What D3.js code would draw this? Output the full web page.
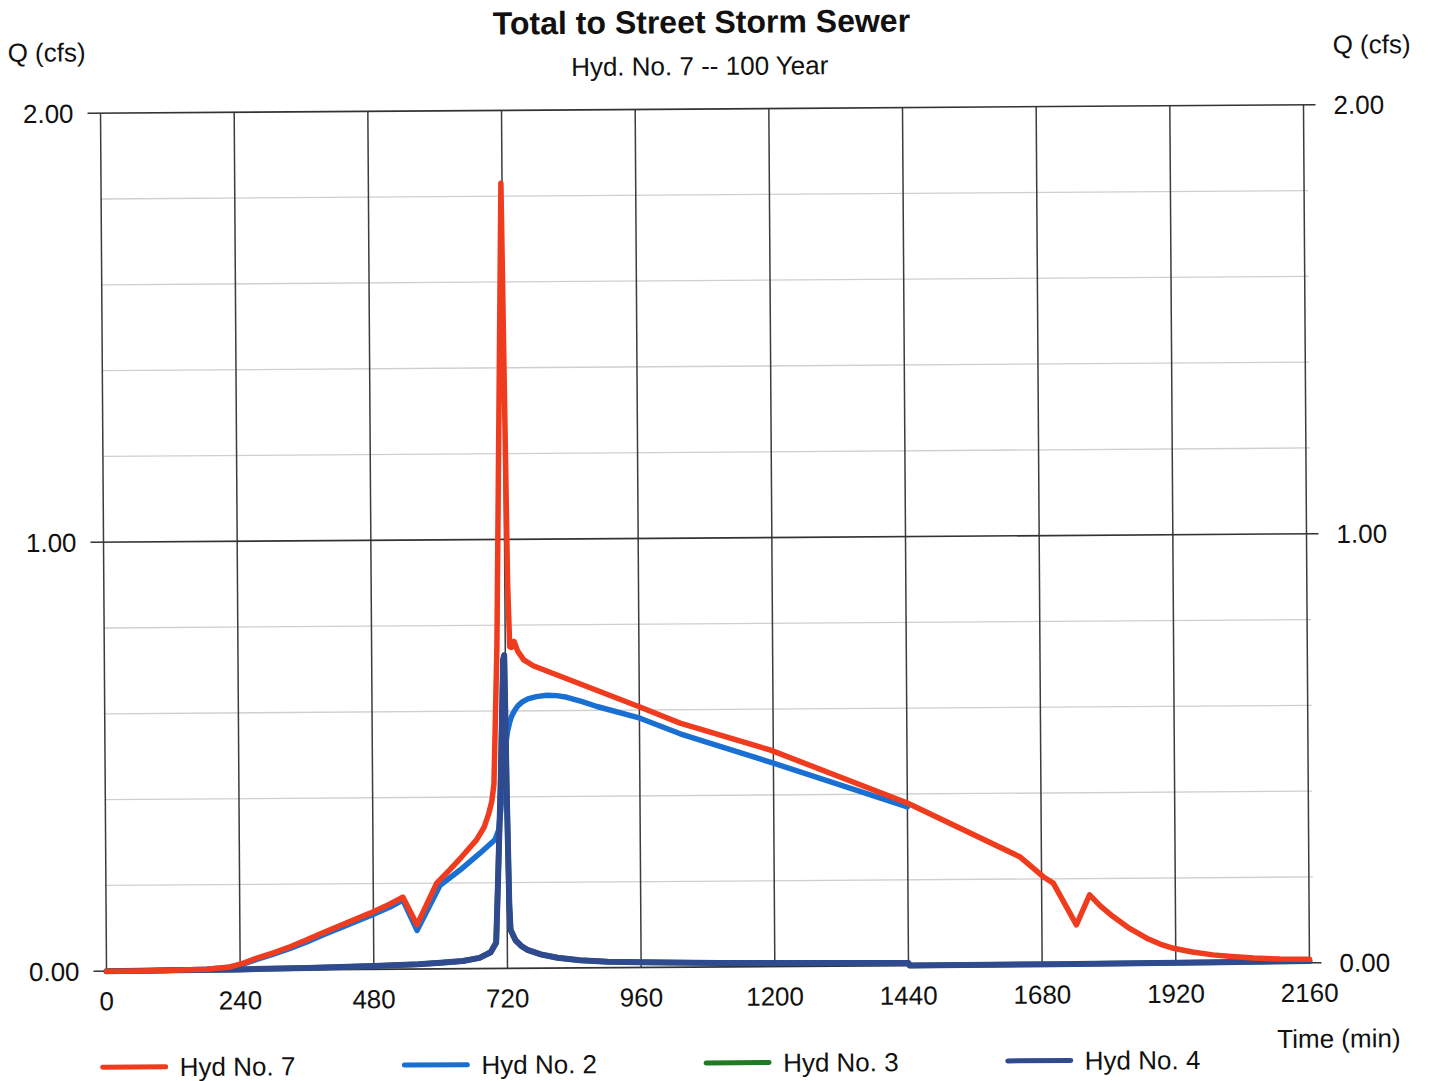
<!DOCTYPE html>
<html>
<head>
<meta charset="utf-8">
<script src="https://cdn.jsdelivr.net/npm/d3@7"></script>
<style>
  html, body { margin: 0; padding: 0; background: #ffffff; }
  svg { display: block; }
  text { font-family: "Liberation Sans", Arial, Helvetica, sans-serif; fill: #111; }
</style>
</head>
<body>
<svg id="chart" width="1432" height="1081"></svg>
<script>
// Hydrograph series: [time (min), flow Q (cfs)]
const hyd7 = [
  [0, 0], [60, 0], [120, 0.001], [180, 0.003], [222, 0.008], [245, 0.016],
  [270, 0.028], [300, 0.04], [330, 0.054], [360, 0.07], [389, 0.086],
  [430, 0.108], [474, 0.131], [510, 0.152], [533, 0.168], [558, 0.103],
  [594, 0.2], [617, 0.23], [640, 0.262], [666, 0.3], [680, 0.33], [688, 0.36],
  [694, 0.39], [698, 0.43], [705, 0.75], [718, 1.83], [725, 0.9], [728, 0.75],
  [731, 0.748], [736, 0.762], [742, 0.74], [753, 0.719], [770, 0.705],
  [961, 0.607], [1033, 0.569], [1194, 0.505], [1440, 0.379], [1641, 0.252],
  [1683, 0.205], [1701, 0.19], [1742, 0.092], [1766, 0.162], [1785, 0.136],
  [1808, 0.111], [1835, 0.085], [1868, 0.06], [1892, 0.046], [1916, 0.036],
  [1950, 0.027], [1987, 0.02], [2020, 0.016], [2060, 0.012], [2107, 0.0093],
  [2160, 0.008]
];
const hyd2 = [
  [0, 0], [60, 0], [120, 0.001], [180, 0.003], [222, 0.007], [245, 0.014],
  [270, 0.025], [300, 0.037], [330, 0.05], [360, 0.065], [389, 0.081],
  [430, 0.102], [474, 0.125], [510, 0.145], [533, 0.161], [558, 0.09],
  [600, 0.195], [636, 0.23], [672, 0.269], [699, 0.3], [706, 0.323],
  [710, 0.37], [714, 0.44], [717, 0.49], [720, 0.525], [723, 0.552],
  [727, 0.574], [731, 0.589], [736, 0.601], [742, 0.612], [750, 0.621],
  [760, 0.628], [775, 0.633], [794, 0.636], [812, 0.635], [830, 0.631],
  [856, 0.621], [884, 0.609], [961, 0.581], [1033, 0.544], [1200, 0.474],
  [1440, 0.37]
];
const hyd3 = [
  [0, 0], [120, 0.001], [240, 0.002], [360, 0.004], [480, 0.008], [560, 0.011],
  [600, 0.014], [640, 0.018], [670, 0.025], [690, 0.038], [700, 0.06],
  [704, 0.2], [710, 0.43], [716, 0.72], [718, 0.73], [721, 0.4], [724, 0.15],
  [726, 0.09], [735, 0.065], [745, 0.052], [756, 0.043], [780, 0.032],
  [810, 0.024], [850, 0.018], [900, 0.014], [960, 0.012], [1100, 0.009],
  [1200, 0.008], [1440, 0.006], [1442, 0], [1700, 0.001], [2000, 0.003],
  [2160, 0.004]
];
const hyd4 = [
  [0, 0], [120, 0.001], [240, 0.002], [360, 0.004], [480, 0.008], [560, 0.011],
  [600, 0.014], [640, 0.018], [670, 0.025], [690, 0.038], [700, 0.06],
  [704, 0.2], [710, 0.43], [716, 0.72], [718, 0.73], [721, 0.4], [724, 0.15],
  [726, 0.09], [735, 0.065], [745, 0.052], [756, 0.043], [780, 0.032],
  [810, 0.024], [850, 0.018], [900, 0.014], [960, 0.012], [1100, 0.009],
  [1200, 0.008], [1440, 0.006], [1442, 0], [1700, 0.001], [2000, 0.003],
  [2160, 0.004]
];

// Axis ticks
const timeTicks = [0, 240, 480, 720, 960, 1200, 1440, 1680, 1920, 2160];
const flowMajorTicks = [0, 1, 2];
const flowMinorTicks = [0.2, 0.4, 0.6, 0.8, 1.2, 1.4, 1.6, 1.8];

// Legend entries, in drawing order of the legend row
const legendNames = ["Hyd No. 7", "Hyd No. 2", "Hyd No. 3", "Hyd No. 4"];

const titleText = "Total to Street Storm Sewer";
const subtitleText = "Hyd. No. 7 -- 100 Year";
const yAxisLabel = "Q (cfs)";
const xAxisLabel = "Time (min)";

const colors = {
  "Hyd No. 7": "#f03c1e",
  "Hyd No. 2": "#1a70d2",
  "Hyd No. 3": "#1f7a24",
  "Hyd No. 4": "#2f4a8e"
};

const plot = { left: 103.5, top: 109, width: 1203, height: 858 };

const x = d3.scaleLinear().domain([0, 2160]).range([plot.left, plot.left + plot.width]);
const y = d3.scaleLinear().domain([0, 2]).range([plot.top + plot.height, plot.top]);

const svg = d3.select("#chart");
svg.append("rect").attr("width", 1432).attr("height", 1081).attr("fill", "#fff");

// the whole sheet sits very slightly turned
const g = svg.append("g").attr("transform", "rotate(-0.4, 705, 538)");

// minor horizontal grid
g.append("g").selectAll("line").data(flowMinorTicks).join("line")
  .attr("x1", x(0)).attr("x2", x(2160) + 4)
  .attr("y1", d => y(d)).attr("y2", d => y(d))
  .attr("stroke", "#cfcfcf").attr("stroke-width", 1.3);

// vertical grid at every time tick
g.append("g").selectAll("line").data(timeTicks).join("line")
  .attr("x1", d => x(d)).attr("x2", d => x(d))
  .attr("y1", y(0)).attr("y2", y(2))
  .attr("stroke", "#3c3c3c").attr("stroke-width", 1.5);

// major horizontal lines with ticks on both sides
g.append("g").selectAll("line").data(flowMajorTicks).join("line")
  .attr("x1", x(0) - 13).attr("x2", x(2160) + 12)
  .attr("y1", d => y(d)).attr("y2", d => y(d))
  .attr("stroke", "#333").attr("stroke-width", 1.6);

// left axis labels
g.append("g").selectAll("text").data(flowMajorTicks).join("text")
  .attr("x", x(0) - 27).attr("y", d => y(d)).attr("dy", "0.36em")
  .attr("text-anchor", "end").attr("font-size", 26)
  .text(d3.format(".2f"));

// right axis labels
g.append("g").selectAll("text").data(flowMajorTicks).join("text")
  .attr("x", x(2160) + 30).attr("y", d => y(d)).attr("dy", "0.36em")
  .attr("text-anchor", "start").attr("font-size", 26)
  .text(d3.format(".2f"));

// time axis labels
g.append("g").selectAll("text").data(timeTicks).join("text")
  .attr("x", d => x(d)).attr("y", y(0) + 39)
  .attr("text-anchor", "middle").attr("font-size", 26)
  .text(d => d);

// titles
g.append("text").attr("x", 705).attr("y", 33).attr("text-anchor", "middle")
  .attr("font-size", 32).attr("font-weight", "bold").text(titleText);
g.append("text").attr("x", 703).attr("y", 75).attr("text-anchor", "middle")
  .attr("font-size", 26).text(subtitleText);
g.append("text").attr("x", 11).attr("y", 57).attr("font-size", 26).text(yAxisLabel);
g.append("text").attr("x", 1336).attr("y", 58).attr("font-size", 26).text(yAxisLabel);
g.append("text").attr("x", 1397).attr("y", 1052).attr("text-anchor", "end")
  .attr("font-size", 26).text(xAxisLabel);

// hydrograph lines
const line = d3.line().x(d => x(d[0])).y(d => y(d[1]));
const series = [
  { name: "Hyd No. 3", data: hyd3, width: 5.5 },
  { name: "Hyd No. 2", data: hyd2, width: 5.5 },
  { name: "Hyd No. 4", data: hyd4, width: 6 },
  { name: "Hyd No. 7", data: hyd7, width: 5.5 }
];
g.append("g").selectAll("path").data(series).join("path")
  .attr("d", d => line(d.data))
  .attr("fill", "none")
  .attr("stroke", d => colors[d.name])
  .attr("stroke-width", d => d.width)
  .attr("stroke-linejoin", "round")
  .attr("stroke-linecap", "round");

// legend row
const legend = g.append("g").selectAll("g").data(legendNames).join("g")
  .attr("transform", (d, i) => `translate(${99 + i * 301.7}, 1063)`);
legend.append("line")
  .attr("x1", 0).attr("x2", 63).attr("y1", 0).attr("y2", 0)
  .attr("stroke", d => colors[d]).attr("stroke-width", 5)
  .attr("stroke-linecap", "round");
legend.append("text")
  .attr("x", 77).attr("y", 0).attr("dy", "0.36em")
  .attr("font-size", 26).text(d => d);
</script>
</body>
</html>
